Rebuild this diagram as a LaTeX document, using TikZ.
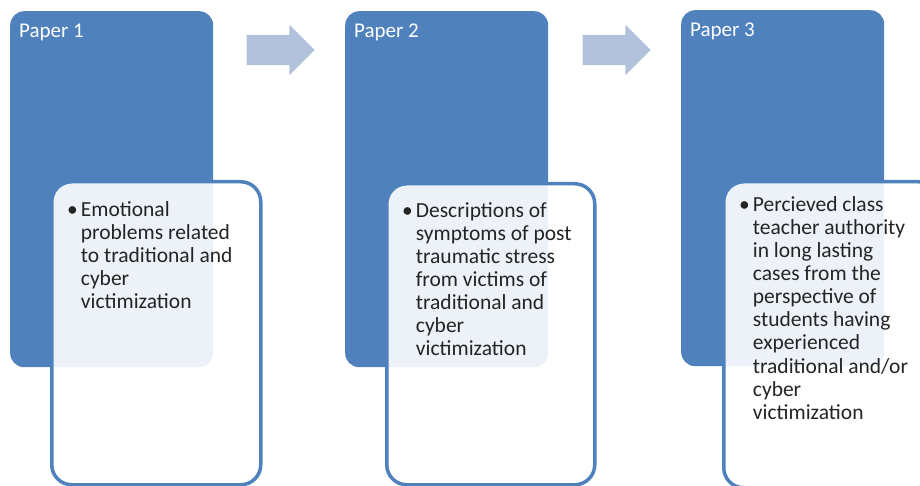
\documentclass[tikz,border=0pt]{standalone}
\usepackage{fontspec}
\setmainfont{Carlito}
\usetikzlibrary{shapes.arrows, positioning}

\definecolor{paperblue}{RGB}{79,129,189}
\definecolor{arrowblue}{RGB}{178,194,221}
\definecolor{textgray}{RGB}{36,36,36}

\tikzset{
  paper/.style={fill=paperblue, rounded corners=14pt, inner sep=0pt,
    minimum width=203pt, minimum height=356pt, anchor=north west},
  card/.style={draw=paperblue, line width=3.5pt, fill=white, fill opacity=0.9,
    text opacity=1, rounded corners=20pt, inner sep=0pt, anchor=north west},
  title/.style={text=white, inner sep=0pt, anchor=base west,
    font=\fontsize{21}{23}\selectfont},
  item/.style={text=textgray, inner sep=0pt, anchor=base west,
    font=\fontsize{21.5}{23}\selectfont},
  flow/.style={single arrow, fill=arrowblue, inner xsep=0pt, inner ysep=15pt,
    minimum height=68pt, single arrow head extend=10pt, single arrow head indent=0pt}
}

\begin{document}
\begin{tikzpicture}[x=1pt, y=-1pt]
  \useasboundingbox (0,0) rectangle (920,486);
  \clip (0,0) rectangle (920,486);

  % Paper 1
  \node (paper1) [paper] at (10,11) {};
  \node (title1) [title] at (19,38) {Paper 1};
  \node (card1) [card, minimum width=209pt, minimum height=303pt] at (50,180) {};
  \node (list1) [item] at (67,217) {\begin{tabular}[t]{@{}l@{\hspace{3pt}}l@{}}
    \textbullet & Emotional\\
     & problems related\\
     & to traditional and\\
     & cyber\\
     & victimization
  \end{tabular}};

  % Paper 2
  \node (paper2) [paper] at (345,11) {};
  \node (title2) [title] at (354,38) {Paper 2};
  \node (card2) [card, minimum width=208pt, minimum height=301pt] at (385,182) {};
  \node (list2) [item] at (402,218) {\begin{tabular}[t]{@{}l@{\hspace{3pt}}l@{}}
    \textbullet & Descriptions of\\
     & symptoms of post\\
     & traumatic stress\\
     & from victims of\\
     & traditional and\\
     & cyber\\
     & victimization
  \end{tabular}};

  % Paper 3
  \node (paper3) [paper] at (681,10) {};
  \node (title3) [title] at (690,37) {Paper 3};
  \node (card3) [card, minimum width=215pt, minimum height=306pt] at (722,180) {};
  \node (list3) [item] at (739,212) {\begin{tabular}[t]{@{}l@{\hspace{3pt}}l@{}}
    \textbullet & Percieved class\\
     & teacher authority\\
     & in long lasting\\
     & cases from the\\
     & perspective of\\
     & students having\\
     & experienced\\
     & traditional and/or\\
     & cyber\\
     & victimization
  \end{tabular}};

  % Arrows between papers
  \node (next1) [flow] at (273,50) {};
  \node (next2) [flow] at (609,50) {};
\end{tikzpicture}
\end{document}
